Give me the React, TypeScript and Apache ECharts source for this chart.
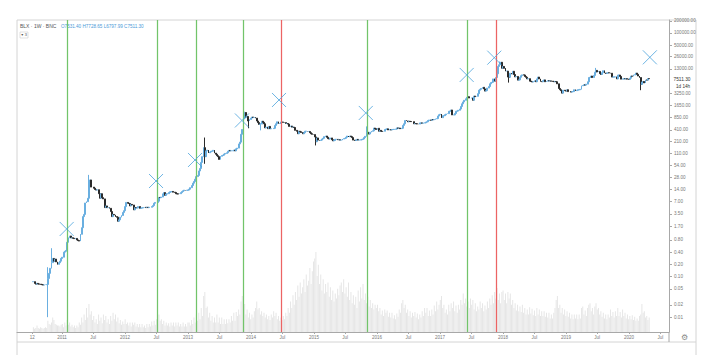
import React, { useEffect, useRef } from "react";
import * as echarts from "echarts";

// ---------- DATA ----------
const firstWeek = "2010-07-19";

const close2010 = [0.075,0.068,0.065,0.068,0.066,0.065,0.064,0.063,0.062,0.062,0.063,0.064,0.09,0.12,0.16,0.22,0.28,0.24,0.27,0.23,0.2,0.22,0.24,0.28];
const close2011 = [0.3,0.4,0.42,0.44,0.7,0.9,1.0,0.9,0.9,0.88,0.86,0.87,0.8,0.77,0.75,1.1,1.6,3.0,3.4,6.5,7.0,8.5,18,24,16,16,15,14,13.5,13.8,11,8.5,11,8.8,8.2,5.0,5.5,5.0,5.0,4.8,4.0,3.0,3.4,3.3,3.0,2.9,2.3,2.5,2.9,3.2,3.8,4.2];
const close2012 = [5.3,6.7,6.4,6.3,5.5,6.0,5.8,4.4,5.0,4.9,4.9,5.3,4.8,4.9,4.9,5.0,5.1,5.0,5.1,5.0,5.1,5.1,5.3,5.6,6.4,6.7,6.7,7.2,8.9,8.8,9.1,10.9,11.7,10.0,10.8,11.0,11.8,12.3,12.3,12.5,12.0,11.8,11.0,10.9,10.8,11.0,11.7,12.4,13.0,13.5,13.3,13.4,13.5];
const close2013 = [14.2,15.5,17.5,20,22,25,29,31,40,46,65,90,150,90,125,130,112,117,122,123,129,110,103,95,90,77,92,96,98,104,108,112,122,128,125,126,126,131,125,140,146,185,205,320,420,800,1100,850,880,680,740,800];
const close2014 = [850,830,830,800,680,620,560,570,670,630,580,460,480,440,500,440,440,440,450,530,580,650,590,590,640,640,630,620,590,590,570,500,510,480,480,470,400,380,330,380,370,355,330,350,380,380,375,375,350,330,320,315];
const close2015 = [275,210,260,230,225,230,245,255,280,290,270,250,245,260,235,220,225,240,240,235,235,230,230,245,250,255,270,290,275,290,280,265,230,225,230,240,230,230,235,240,245,265,285,360,330,325,360,380,390,455,440,420];
const close2016 = [450,380,400,380,375,380,420,430,435,410,415,410,420,420,425,430,460,450,455,440,450,530,580,700,680,650,670,660,655,655,580,590,580,575,570,610,610,600,605,615,640,650,700,720,705,740,730,740,770,780,900,970];
const close2017 = [1000,820,920,920,970,1010,1030,1180,1190,1270,960,960,1040,1180,1190,1250,1340,1550,1800,2000,2200,2400,2600,2700,2500,2500,2500,2200,2800,2700,2750,3200,3900,4100,4300,4600,4200,3700,3800,4400,4800,5600,6000,6100,7400,6500,8000,9900,15000,16500,19000,13500];
const close2018 = [15000,13500,11500,11500,8200,8100,10200,9700,11400,9500,8300,8500,6900,7000,8100,8900,9300,9200,8500,8100,7400,7500,6500,6400,6200,6300,6700,6300,7400,8200,7400,6400,6300,6700,7000,6300,6500,6700,6600,6600,6500,6400,6300,6400,6300,5600,4300,4000,3800,3300,3900,3800,3700];
const close2019 = [4000,3600,3600,3500,3600,3600,4000,3800,3900,4000,4000,4100,5000,5100,5300,5200,5500,6300,8000,8100,8700,8000,9000,10800,12000,11000,11300,10000,9500,10500,11800,10300,10100,10300,10500,10400,10200,8200,8200,8300,8300,7400,9200,9200,8500,7300,7400,7500,7400,7500,7300,7200];
const close2020 = [7700,8700,8600,9300,9400,10300,9600,8700,8000,5400,6200,6400,5900,7000,6900,7530,7511.3];

const volume2010 = [6,4,5,8,5,4,6,5,4,5,6,5,14,10,9,12,18,15,10,9,8,8,7,9];
const volume2011 = [10,6,12,8,15,9,12,7,9,6,8,5,8,6,12,9,18,12,22,15,30,18,35,22,26,15,20,12,16,10,22,14,18,11,22,15,20,12,16,10,20,14,24,16,22,13,18,11,15,9,13,10];
const volume2012 = [16,10,12,8,12,7,12,9,12,7,10,6,10,6,10,6,8,5,10,6,10,7,13,8,14,9,16,10,22,14,16,10,14,8,12,8,11,7,12,8,12,7,12,8,12,7,10,7,12,7,10,7,12];
const volume2013 = [12,8,15,10,18,12,22,14,24,16,30,20,45,50,30,32,18,24,14,20,12,18,12,22,12,18,10,18,10,16,10,16,11,16,12,20,14,24,14,25,20,28,22,38,45,30,35,22,28,18,24,16];
const volume2014 = [22,18,26,30,38,28,30,22,26,20,24,18,22,16,20,15,22,18,26,20,24,16,20,14,18,15,20,16,24,20,30,24,38,30,46,34,50,40,58,44,62,48,56,66,50,72,58,64,80,60,76,88];
const volume2015 = [92,100,70,84,60,72,52,66,48,60,50,62,44,56,40,52,38,48,42,54,46,58,62,50,66,48,56,44,62,40,50,36,46,34,44,30,52,38,56,42,60,40,48,36,44,32,40,30,36,28,34,30];
const volume2016 = [34,26,30,22,27,20,28,24,27,19,24,18,24,17,21,16,23,19,28,24,36,40,30,34,24,28,20,26,18,24,20,25,18,23,16,22,18,26,20,30,24,30,20,27,20,28,22,33,26,38,28,34];
const volume2017 = [40,45,30,34,24,28,22,34,26,36,30,38,26,33,24,34,28,40,34,48,36,42,32,38,30,42,34,40,28,36,26,32,28,38,30,36,26,33,28,38,30,42,34,46,36,50,42,55,40,48,36,50];
const volume2018 = [52,40,48,36,50,42,48,34,40,30,36,27,34,26,32,25,34,24,30,22,28,22,31,23,29,21,27,20,30,22,28,20,26,20,26,19,24,18,24,17,22,17,24,30,40,45,30,34,24,30,22,28,20];
const volume2019 = [26,19,24,17,22,16,22,17,22,16,22,17,30,32,22,27,20,30,34,36,26,30,22,32,36,28,30,22,26,19,24,17,22,16,22,18,28,20,25,18,26,20,30,20,25,18,28,20,24,17,22,16];
const volume2020 = [20,16,21,15,19,14,17,14,20,22,35,24,26,18,20,15,18];

// notable wicks: [week, high, low]
const wickWeeks = ["2010-10-11","2010-11-01","2011-06-06","2013-04-08","2013-11-25","2013-12-16","2014-02-24","2015-01-12","2015-11-02","2017-12-11","2018-02-05","2019-06-24","2020-03-09"];
const wickHighs = [0.17,0.5,32,266,1150,750,600,280,500,19800,9000,13800,8000];
const wickLows = [0.01,0.2,16,60,750,450,400,170,330,15000,6000,10500,3900];

const greenLineDates = ["2011-02-01","2012-07-04","2013-02-16","2013-11-15","2015-11-03","2017-06-09"];
const redLineDates = ["2014-06-23","2017-11-21"];

const crossDates = ["2011-01-28","2012-06-29","2013-02-10","2013-11-09","2014-06-12","2015-10-28","2017-06-04","2017-11-11","2020-05-01"];
const crossPrices = [1.49,22.6,74.5,700,2240,1072,9250,24660,25170];

const xTickDates = ["2010-07-12","2011-01-01","2011-07-01","2012-01-01","2012-07-01","2013-01-01","2013-07-01","2014-01-01","2014-07-01","2015-01-01","2015-07-01","2016-01-01","2016-07-01","2017-01-01","2017-07-01","2018-01-01","2018-07-01","2019-01-01","2019-07-01","2020-01-01","2020-07-01"];
const xTickLabels = ["12","2011","Jul","2012","Jul","2013","Jul","2014","Jul","2015","Jul","2016","Jul","2017","Jul","2018","Jul","2019","Jul","2020","Jul"];

const yTickValues = [200000,100000,50000,26000,13000,3250,1650,850,410,210,110,54,28,14,7,3.5,1.7,0.8,0.4,0.2,0.1,0.05,0.02,0.01];

// ---------- CHART ----------
const DAY = 86400000;
const lg = (v: number) => Math.log10(v);

export default function App() {
  const ref = useRef<HTMLDivElement>(null);

  useEffect(() => {
    if (!ref.current) return;
    const chart = echarts.init(ref.current, undefined, { renderer: "svg" });

    const closes = [...close2010, ...close2011, ...close2012, ...close2013, ...close2014, ...close2015, ...close2016, ...close2017, ...close2018, ...close2019, ...close2020];
    const volumes = [...volume2010, ...volume2011, ...volume2012, ...volume2013, ...volume2014, ...volume2015, ...volume2016, ...volume2017, ...volume2018, ...volume2019, ...volume2020];
    const t0 = Date.parse(firstWeek);
    const wickMap = new Map<number, [number, number]>();
    wickWeeks.forEach((d, i) => wickMap.set(Date.parse(d), [wickHighs[i], wickLows[i]]));

    const candles = closes.map((c, i) => {
      const t = t0 + i * 7 * DAY;
      const o = i === 0 ? c : closes[i - 1];
      let hi = Math.max(o, c);
      let lo = Math.min(o, c);
      const w = wickMap.get(t);
      if (w) {
        hi = Math.max(hi, w[0]);
        lo = Math.min(lo, w[1]);
      }
      return [t, lg(o), lg(c), lg(lo), lg(hi)];
    });
    const vols = volumes.map((v, i) => [t0 + i * 7 * DAY, v]);

    const xTickTimes = xTickDates.map((d) => Date.parse(d));
    const xFmt = (v: number) => {
      let best = 0;
      let bd = Infinity;
      xTickTimes.forEach((t, i) => {
        const d = Math.abs(t - v);
        if (d < bd) { bd = d; best = i; }
      });
      return xTickLabels[best];
    };
    const yTickLogs = yTickValues.map(lg);
    const yFmt = (v: number) => {
      let best = yTickValues[0];
      let bd = Infinity;
      yTickValues.forEach((t) => {
        const d = Math.abs(lg(t) - v);
        if (d < bd) { bd = d; best = t; }
      });
      return best.toFixed(2);
    };

    const font = "Liberation Sans";
    const frame = "#d4d4d4";

    const vLineSeries = (name: string, dates: string[], color: string) => ({
      name,
      type: "line",
      data: [],
      silent: true,
      z: 4,
      markLine: {
        silent: true,
        symbol: ["none", "none"],
        label: { show: false },
        lineStyle: { color, width: 1.25, type: "solid", opacity: 1 },
        emphasis: { disabled: true },
        data: dates.map((d) => ({ xAxis: Date.parse(d) })),
      },
    });

    chart.setOption({
      animation: false,
      backgroundColor: "#ffffff",
      grid: { left: 17, right: 41, top: 20, bottom: 23, containLabel: false },
      xAxis: {
        type: "value",
        min: Date.parse("2010-04-15"),
        max: Date.parse("2020-08-20"),
        axisLine: { show: true, onZero: false, lineStyle: { color: "#a8a8a8", width: 1 } },
        axisTick: { show: true, length: 2, customValues: xTickTimes, lineStyle: { color: "#a8a8a8" } },
        axisLabel: {
          customValues: xTickTimes,
          formatter: xFmt,
          fontSize: 4.5,
          color: "#777",
          margin: 3,
          fontFamily: font,
        },
        splitLine: { show: false },
      },
      yAxis: [
        {
          type: "value",
          position: "right",
          min: -2.365,
          max: 5.32,
          axisLine: { show: true, onZero: false, lineStyle: { color: "#a8a8a8", width: 1 } },
          axisTick: { show: true, length: 3, inside: false, customValues: yTickLogs, lineStyle: { color: "#a8a8a8" } },
          axisLabel: {
            customValues: yTickLogs,
            formatter: yFmt,
            fontSize: 4.6,
            color: "#777",
            margin: 5,
            fontFamily: font,
          },
          splitLine: { show: false },
        },
        { type: "value", min: 0, max: 390, show: false },
      ],
      series: [
        {
          name: "Volume",
          type: "bar",
          yAxisIndex: 1,
          data: vols,
          barWidth: 0.9,
          itemStyle: { color: "#e6e6e6" },
          silent: true,
          z: 1,
        },
        vLineSeries("Green", greenLineDates, "#72c46a"),
        vLineSeries("Red", redLineDates, "#ec6464"),
        {
          name: "BLX",
          type: "candlestick",
          data: candles,
          encode: { x: 0, y: [1, 2, 3, 4] },
          barWidth: 1.4,
          itemStyle: {
            color: "#6aafe0",
            color0: "#2a2a2a",
            borderColor: "#6aafe0",
            borderColor0: "#2a2a2a",
            borderWidth: 1,
          },
          z: 3,
        },
        {
          name: "Marks",
          type: "scatter",
          data: crossDates.map((d, i) => [Date.parse(d), lg(crossPrices[i])]),
          symbol: "path://M0,0L10,10M10,0L0,10",
          symbolSize: 14,
          itemStyle: { color: "transparent", borderColor: "#4aa2dc", borderWidth: 1 },
          silent: true,
          z: 5,
        },
      ],
      graphic: [
        { type: "line", shape: { x1: 17, y1: 20, x2: 696, y2: 20 }, style: { stroke: frame, lineWidth: 1 }, silent: true },
        { type: "line", shape: { x1: 17, y1: 20, x2: 17, y2: 355 }, style: { stroke: frame, lineWidth: 1 }, silent: true },
        { type: "line", shape: { x1: 696, y1: 20, x2: 696, y2: 355 }, style: { stroke: frame, lineWidth: 1 }, silent: true },
        { type: "line", shape: { x1: 17, y1: 342, x2: 696, y2: 342 }, style: { stroke: frame, lineWidth: 1 }, silent: true },
        { type: "line", shape: { x1: 669, y1: 332, x2: 669, y2: 342 }, style: { stroke: "#a8a8a8", lineWidth: 1 }, silent: true },
        { type: "text", left: 20, top: 23.5, style: { text: "BLX · 1W · BNC", fontSize: 5, fill: "#555", fontFamily: font } },
        { type: "text", left: 61, top: 24, style: { text: "O7531.40 H7728.65 L6797.99 C7511.30", fontSize: 4.6, fill: "#4a9ad8", fontFamily: font } },
        { type: "rect", shape: { x: 20, y: 32, width: 8, height: 6 }, style: { fill: "#fff", stroke: "#cfcfcf", lineWidth: 0.6 } },
        { type: "text", x: 21.2, y: 32.6, style: { text: "▾ 3", fontSize: 4, fill: "#555", fontFamily: "DejaVu Sans" } },
        { type: "text", x: 673.5, y: 76.5, style: { text: "7511.30", fontSize: 4.8, fill: "#333", fontFamily: font } },
        { type: "text", x: 676, y: 83.5, style: { text: "1d 14h", fontSize: 4.6, fill: "#333", fontFamily: font } },
        { type: "text", x: 681, y: 333.5, style: { text: "⚙", fontSize: 8, fill: "#888", fontFamily: "DejaVu Sans" } },
      ],
    });

    return () => chart.dispose();
  }, []);

  return (
    <div
      ref={ref}
      style={{ position: "absolute", left: 0, top: 0, width: 710, height: 355, background: "#fff" }}
    />
  );
}
